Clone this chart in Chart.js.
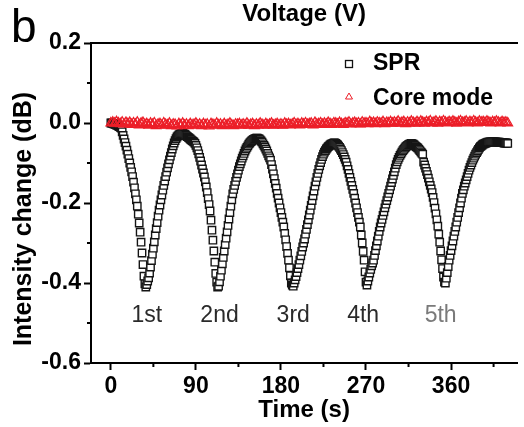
<!DOCTYPE html>
<html>
<head>
<meta charset="utf-8">
<script src="https://cdn.jsdelivr.net/npm/chart.js@4/dist/chart.umd.min.js"></script>
<style>
  body { margin: 0; background: #fff; }
  #chart { display: block; }
</style>
</head>
<body>
<canvas id="chart" width="524" height="427"></canvas>
<script>
// SPR intensity change (dB), one reading per second from t = 0 s
const sprStep = 1;
const sprValues = [
  0.000, 0.000, -0.001, -0.002, -0.003, -0.004, -0.005, -0.006, -0.008, -0.009,
  -0.011, -0.013, -0.022, -0.031, -0.040, -0.049, -0.058, -0.068, -0.078, -0.089,
  -0.100, -0.111, -0.122, -0.134, -0.148, -0.162, -0.177, -0.192, -0.208, -0.228,
  -0.250, -0.273, -0.298, -0.325, -0.354, -0.383, -0.402, -0.410, -0.404, -0.395,
  -0.387, -0.375, -0.360, -0.344, -0.328, -0.313, -0.297, -0.280, -0.264, -0.249,
  -0.233, -0.218, -0.205, -0.192, -0.180, -0.168, -0.156, -0.145, -0.134, -0.123,
  -0.112, -0.102, -0.092, -0.083, -0.074, -0.065, -0.057, -0.050, -0.044, -0.039,
  -0.035, -0.032, -0.030, -0.028, -0.027, -0.026, -0.026, -0.027, -0.028, -0.030,
  -0.032, -0.034, -0.036, -0.038, -0.040, -0.042, -0.044, -0.046, -0.048, -0.051,
  -0.056, -0.062, -0.069, -0.077, -0.086, -0.095, -0.105, -0.115, -0.125, -0.135,
  -0.147, -0.160, -0.174, -0.189, -0.204, -0.220, -0.243, -0.268, -0.293, -0.320,
  -0.348, -0.376, -0.398, -0.410, -0.408, -0.397, -0.383, -0.368, -0.352, -0.336,
  -0.320, -0.304, -0.288, -0.272, -0.256, -0.240, -0.224, -0.208, -0.192, -0.177,
  -0.166, -0.156, -0.146, -0.136, -0.127, -0.118, -0.109, -0.102, -0.095, -0.088,
  -0.082, -0.076, -0.070, -0.065, -0.061, -0.057, -0.053, -0.050, -0.047, -0.045,
  -0.043, -0.041, -0.040, -0.039, -0.038, -0.038, -0.039, -0.040, -0.042, -0.045,
  -0.048, -0.052, -0.056, -0.060, -0.065, -0.070, -0.076, -0.082, -0.087, -0.093,
  -0.104, -0.115, -0.127, -0.139, -0.151, -0.163, -0.176, -0.188, -0.200, -0.212,
  -0.224, -0.236, -0.248, -0.260, -0.276, -0.292, -0.309, -0.326, -0.343, -0.362,
  -0.382, -0.400, -0.405, -0.408, -0.400, -0.392, -0.384, -0.374, -0.364, -0.354,
  -0.343, -0.332, -0.321, -0.310, -0.300, -0.290, -0.278, -0.266, -0.254, -0.242,
  -0.230, -0.218, -0.206, -0.194, -0.182, -0.170, -0.158, -0.147, -0.136, -0.126,
  -0.116, -0.107, -0.099, -0.091, -0.084, -0.078, -0.073, -0.069, -0.065, -0.062,
  -0.059, -0.057, -0.055, -0.053, -0.052, -0.051, -0.050, -0.050, -0.051, -0.053,
  -0.055, -0.058, -0.061, -0.065, -0.069, -0.074, -0.079, -0.085, -0.091, -0.098,
  -0.107, -0.116, -0.126, -0.136, -0.146, -0.156, -0.166, -0.176, -0.188, -0.200,
  -0.212, -0.224, -0.236, -0.248, -0.260, -0.280, -0.300, -0.321, -0.343, -0.372,
  -0.398, -0.405, -0.395, -0.385, -0.375, -0.366, -0.357, -0.350, -0.343, -0.331,
  -0.319, -0.307, -0.295, -0.283, -0.271, -0.260, -0.250, -0.241, -0.231, -0.222,
  -0.212, -0.203, -0.194, -0.185, -0.176, -0.167, -0.158, -0.149, -0.140, -0.131,
  -0.122, -0.113, -0.104, -0.097, -0.091, -0.086, -0.081, -0.077, -0.073, -0.069,
  -0.066, -0.063, -0.060, -0.058, -0.056, -0.054, -0.053, -0.052, -0.051, -0.052,
  -0.053, -0.055, -0.057, -0.059, -0.061, -0.063, -0.066, -0.069, -0.072, -0.075,
  -0.078, -0.098, -0.105, -0.113, -0.121, -0.129, -0.138, -0.147, -0.156, -0.165,
  -0.174, -0.186, -0.199, -0.213, -0.227, -0.242, -0.258, -0.278, -0.298, -0.320,
  -0.342, -0.364, -0.385, -0.398, -0.400, -0.388, -0.374, -0.359, -0.343, -0.331,
  -0.319, -0.307, -0.295, -0.283, -0.271, -0.260, -0.248, -0.236, -0.224, -0.212,
  -0.200, -0.188, -0.176, -0.167, -0.158, -0.150, -0.142, -0.134, -0.126, -0.118,
  -0.111, -0.105, -0.099, -0.093, -0.088, -0.083, -0.078, -0.074, -0.070, -0.066,
  -0.062, -0.059, -0.057, -0.055, -0.053, -0.052, -0.051, -0.050, -0.049, -0.048,
  -0.048, -0.047, -0.047, -0.047, -0.047, -0.047, -0.047, -0.047, -0.048, -0.048,
  -0.048, -0.048, -0.049, -0.049, -0.049, -0.049, -0.050, -0.050, -0.050, -0.050,
  -0.051
];

// core mode intensity change (dB), one reading every 2 s from t = 0 s
const coreStep = 2;
const coreValues = [
  0.000, 0.002, -0.001, 0.003, 0.000, -0.002, 0.002, -0.003, 0.001, -0.002,
  0.001, -0.004, 0.000, -0.003, 0.002, -0.005, -0.001, 0.001, -0.004, -0.002,
  -0.006, -0.001, -0.004, 0.000, -0.007, -0.003, -0.002, -0.006, 0.000, -0.004,
  -0.005, -0.001, -0.007, -0.003, -0.004, -0.008, -0.002, -0.005, -0.001, -0.006,
  -0.003, -0.007, -0.002, -0.005, -0.004, -0.001, -0.006, -0.003, -0.007, -0.002,
  -0.005, -0.003, -0.008, -0.002, -0.004, -0.006, -0.001, -0.005, -0.003, -0.007,
  -0.002, -0.006, -0.004, -0.001, -0.005, -0.007, -0.003, -0.004, -0.002, -0.006,
  -0.003, -0.005, -0.001, -0.006, -0.004, -0.002, -0.007, -0.003, -0.005, -0.001,
  -0.004, -0.006, -0.002, -0.005, -0.003, -0.001, -0.006, -0.004, -0.002, -0.005,
  -0.003, -0.006, -0.001, -0.004, -0.002, -0.005, -0.003, 0.000, -0.004, -0.002,
  -0.005, -0.001, -0.003, 0.000, -0.004, -0.002, -0.001, -0.005, 0.001, -0.003,
  -0.002, 0.000, -0.004, -0.001, -0.003, 0.001, -0.002, -0.004, 0.000, -0.001,
  -0.003, 0.001, -0.002, -0.004, 0.000, -0.001, 0.002, -0.003, -0.001, 0.001,
  -0.002, 0.000, -0.003, 0.002, -0.001, 0.000, -0.002, 0.003, -0.001, 0.001,
  -0.002, 0.002, 0.000, -0.001, 0.003, -0.002, 0.001, 0.000, 0.003, -0.001,
  0.002, 0.000, 0.004, -0.001, 0.001, 0.003, -0.002, 0.002, 0.000, 0.004,
  0.001, -0.001, 0.003, 0.000, 0.004, 0.002, -0.001, 0.003, 0.001, 0.005,
  0.000, 0.002, 0.004, -0.001, 0.003, 0.001, 0.005, 0.002, 0.000, 0.003,
  0.001, 0.004, 0.002, -0.001, 0.003, 0.005, 0.001, 0.002, 0.004, 0.000,
  0.003, 0.001, 0.005, 0.002, 0.000, 0.004, 0.002, 0.003, 0.001, 0.004,
  0.002, 0.000, 0.003, 0.001, 0.004, 0.002, 0.000, 0.003, 0.001, 0.002,
  0.000
];

const xTicks = [0, 90, 180, 270, 360];
const xMinor = [45, 135, 225, 315, 405];
const yTicks = [-0.6, -0.4, -0.2, 0.0, 0.2];
const yMinor = [-0.5, -0.3, -0.1, 0.1];

const cycleLabels = ['1st', '2nd', '3rd', '4th', '5th'];
const cycleTimes = [38, 115, 193, 267, 349];
const cycleLabelY = -0.482;

const FONT = "'Liberation Sans', Arial, sans-serif";
const RED = 'rgb(236, 30, 40)';

const toPoints = (vals, step) => vals.map((v, i) => ({ x: i * step, y: v }));

// minor ticks, y title, cycle labels, in-plot legend and panel letter
const extras = {
  id: 'extras',
  afterDraw(chart) {
    const { ctx, chartArea, scales: { x, y } } = chart;
    ctx.save();
    ctx.strokeStyle = '#000';
    ctx.lineWidth = 2;
    xMinor.forEach(v => {
      const px = x.getPixelForValue(v);
      ctx.beginPath();
      ctx.moveTo(px, chartArea.bottom);
      ctx.lineTo(px, chartArea.bottom + 4);
      ctx.stroke();
    });
    yMinor.forEach(v => {
      const py = y.getPixelForValue(v);
      ctx.beginPath();
      ctx.moveTo(chartArea.left, py);
      ctx.lineTo(chartArea.left - 4, py);
      ctx.stroke();
    });

    // y axis title, sits a little below the plot centre in the original
    ctx.save();
    ctx.translate(24, 219);
    ctx.rotate(-Math.PI / 2);
    ctx.font = 'bold 25px ' + FONT;
    ctx.fillStyle = '#000';
    ctx.textAlign = 'center';
    ctx.textBaseline = 'middle';
    ctx.fillText('Intensity change (dB)', 0, 0);
    ctx.restore();

    ctx.font = '23px ' + FONT;
    ctx.textAlign = 'center';
    ctx.textBaseline = 'middle';
    cycleLabels.forEach((t, i) => {
      ctx.fillStyle = i === 4 ? '#7a7a7a' : '#2a2a2a';
      ctx.fillText(t, x.getPixelForValue(cycleTimes[i]), y.getPixelForValue(cycleLabelY));
    });

    // legend
    const ds = chart.data.datasets;
    const lx = chartArea.left + 258;
    ctx.lineWidth = 1.3;
    ctx.strokeStyle = '#111';
    ctx.strokeRect(lx - 3.5, chartArea.top + 17.5, 7, 7);
    ctx.strokeStyle = RED;
    ctx.lineWidth = 1;
    ctx.beginPath();
    ctx.moveTo(lx, chartArea.top + 50);
    ctx.lineTo(lx + 3.5, chartArea.top + 56);
    ctx.lineTo(lx - 3.5, chartArea.top + 56);
    ctx.closePath();
    ctx.stroke();
    ctx.fillStyle = '#000';
    ctx.font = 'bold 23px ' + FONT;
    ctx.textAlign = 'left';
    ctx.textBaseline = 'alphabetic';
    ctx.fillText(ds[0].label, lx + 24, chartArea.top + 27);
    ctx.fillText(ds[1].label, lx + 24, chartArea.top + 62);

    ctx.font = '46px ' + FONT;
    ctx.fillText('b', 11, 42);
    ctx.restore();
  }
};

new Chart(document.getElementById('chart'), {
  type: 'scatter',
  data: {
    datasets: [{
      label: 'SPR',
      data: toPoints(sprValues, sprStep),
      pointStyle: 'rect',
      pointRadius: 5.2,
      borderWidth: 1.4,
      borderColor: '#151515',
      backgroundColor: '#fff',
      order: 1
    }, {
      label: 'Core mode',
      data: toPoints(coreValues, coreStep),
      pointStyle: 'triangle',
      pointRadius: 5.5,
      borderWidth: 1.3,
      borderColor: RED,
      backgroundColor: 'rgba(0,0,0,0)',
      order: 0
    }]
  },
  options: {
    responsive: false,
    animation: false,
    devicePixelRatio: 1,
    layout: { padding: 0 },
    plugins: {
      legend: { display: false },
      tooltip: { enabled: false }
    },
    scales: {
      x: {
        type: 'linear',
        position: 'bottom',
        min: -21,
        max: 430,
        afterBuildTicks: s => { s.ticks = xTicks.map(v => ({ value: v })); },
        afterFit: s => { s.height = 64; },
        grid: { drawOnChartArea: false, tickLength: 7, tickWidth: 2, tickColor: '#000' },
        border: { color: '#000', width: 2 },
        ticks: { color: '#000', padding: 3, font: { family: FONT, size: 23, weight: 'bold' } },
        title: {
          display: true, text: 'Time (s)', color: '#000',
          padding: { top: 0, bottom: 2 },
          font: { family: FONT, size: 24, weight: 'bold' }
        }
      },
      x2: {
        type: 'linear',
        position: 'top',
        min: -21,
        max: 430,
        afterFit: s => { s.height = 43; },
        grid: { display: false },
        border: { color: '#000', width: 2 },
        ticks: { display: false },
        title: {
          display: true, text: 'Voltage (V)', color: '#000',
          padding: { top: 0, bottom: 0 },
          font: { family: FONT, size: 24, weight: 'bold' }
        }
      },
      y: {
        min: -0.6,
        max: 0.2,
        afterBuildTicks: s => { s.ticks = yTicks.map(v => ({ value: v })); },
        afterFit: s => { s.width = 91; },
        grid: { drawOnChartArea: false, tickLength: 7, tickWidth: 2, tickColor: '#000' },
        border: { color: '#000', width: 2 },
        ticks: {
          color: '#000', padding: 3,
          font: { family: FONT, size: 23, weight: 'bold' },
          callback: v => v.toFixed(1)
        },
        title: { display: false }
      }
    }
  },
  plugins: [extras]
});
</script>
</body>
</html>
